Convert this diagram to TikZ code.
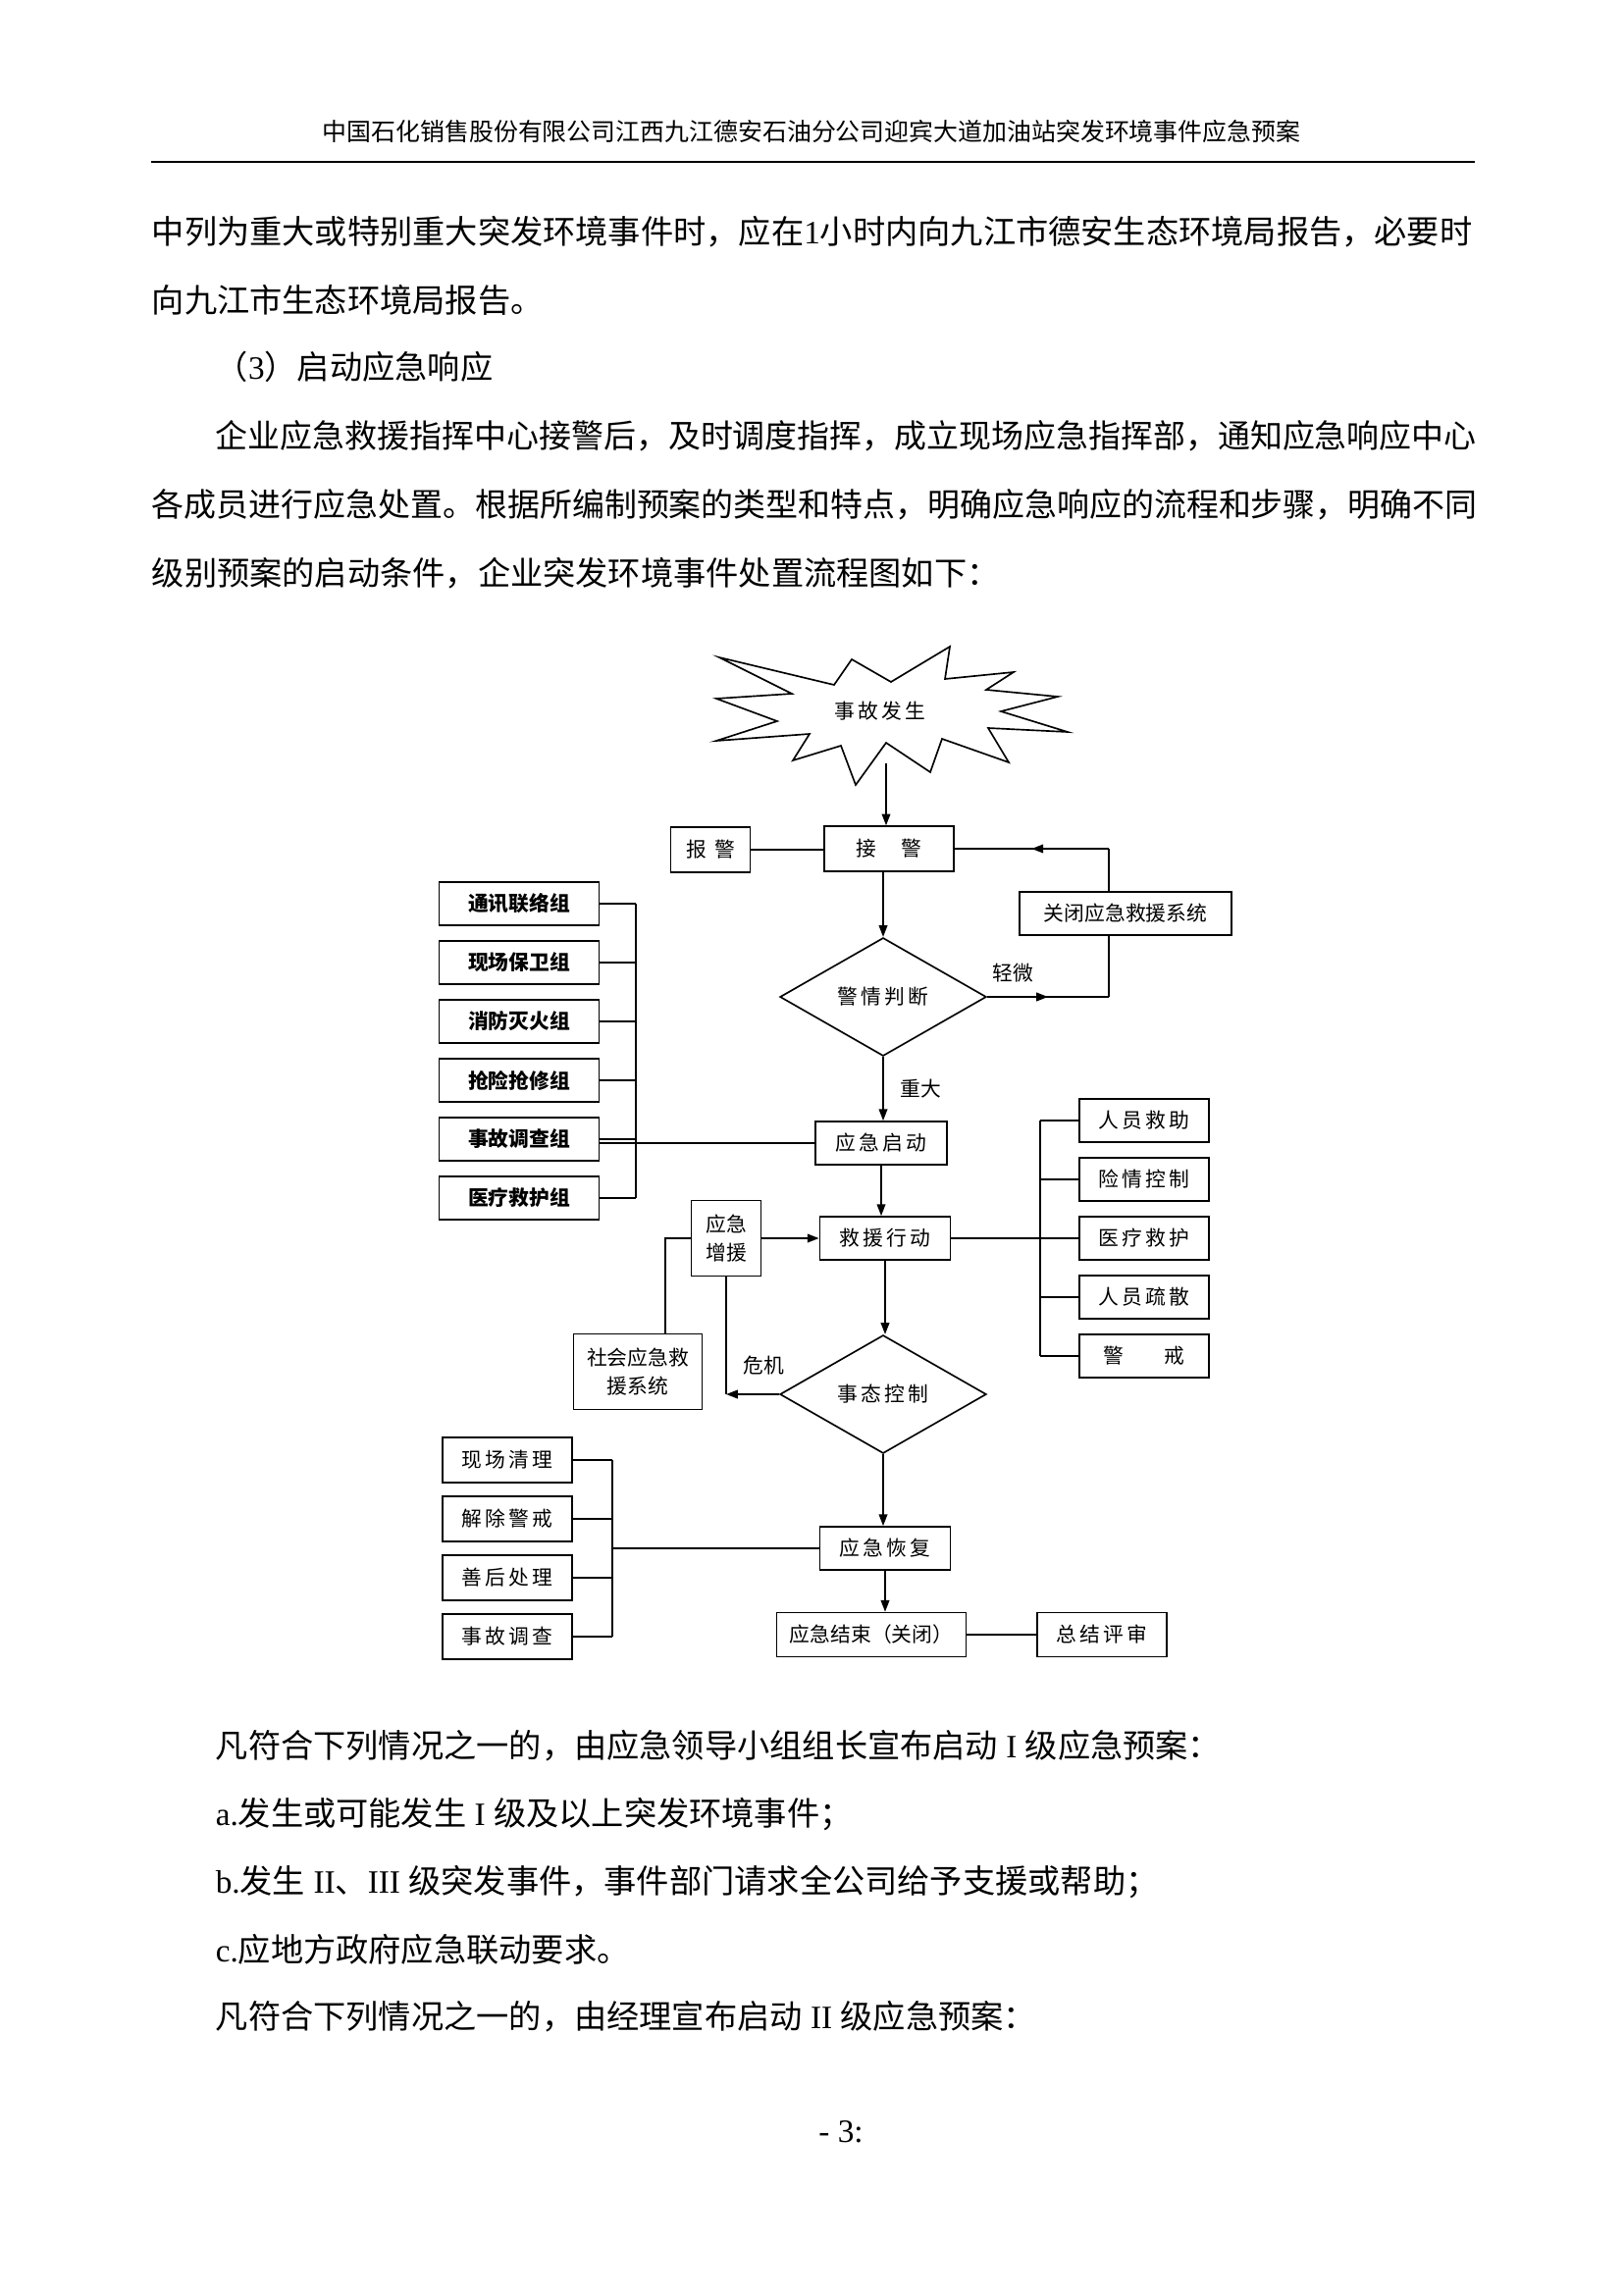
\documentclass[tikz,border=0pt]{standalone}
\usepackage{fontspec}
\setmainfont{Noto Sans CJK SC}
\newfontfamily\tnr{Liberation Serif}
\usepackage{tikz}
\usetikzlibrary{positioning,arrows.meta,shapes.geometric,calc,decorations.markings}

\newcommand{\bodysize}{\fontsize{12}{14}\selectfont}
\newcommand{\boxsize}{\fontsize{7.5}{10.5}\selectfont}

\begin{document}
\begin{tikzpicture}[x=0.12696mm, y=-0.12696mm, line width=0.6pt,
  body/.style={anchor=west, inner sep=0pt, font=\bodysize},
  tight/.style={body, font=\fontsize{11.9}{14}\selectfont},
  box/.style={draw, inner sep=1pt, minimum height=5.6mm, align=center, font=\boxsize},
  wbox/.style={box, font=\boxsize\addfontfeature{LetterSpace=15}},
  gbox/.style={box, minimum width=20.7mm, font=\boxsize\bfseries},
  dia/.style={draw, diamond, inner sep=0pt, minimum width=26.7mm, minimum height=15.3mm,
    font=\boxsize\addfontfeature{LetterSpace=15}},
  lbl/.style={inner sep=1pt, font=\boxsize},
  arr/.style={-{Triangle[length=1.5mm,width=1.1mm]}},
  midarrow/.style={postaction={decorate}, decoration={markings,
    mark=at position 0.5 with {\arrow{Triangle[length=1.5mm,width=1.1mm]}}}}]
  \fill[white] (0,0) rectangle (1654,2339);
  \useasboundingbox (0,0) rectangle (1654,2339);

  % page text
  \node[inner sep=0pt, font=\fontsize{9}{11}\selectfont] (header) at (827,134)
    {中国石化销售股份有限公司江西九江德安石油分公司迎宾大道加油站突发环境事件应急预案};
  \draw[line width=0.8pt] (154,165) -- (1503,165);
  \node[body] (p1) at (154,236) {中列为重大或特别重大突发环境事件时，应在{\tnr 1}小时内向九江市德安生态环境局报告，必要时};
  \node[body] (p2) at (154,306) {向九江市生态环境局报告。};
  \node[body] (p3) at (219,374) {（{\tnr 3}）启动应急响应};
  \node[tight] (p4) at (219,444) {企业应急救援指挥中心接警后，及时调度指挥，成立现场应急指挥部，通知应急响应中心};
  \node[tight] (p5) at (154,514) {各成员进行应急处置。根据所编制预案的类型和特点，明确应急响应的流程和步骤，明确不同};
  \node[body] (p6) at (154,584) {级别预案的启动条件，企业突发环境事件处置流程图如下：};

  % star
  \draw (733,670) -- (850,698) -- (868,672) -- (908,695) -- (968,659) -- (963,692)
    -- (1033,685) -- (1005,703) -- (1078,710) -- (1020,725) -- (1088,746) -- (1007,742)
    -- (1028,777) -- (960,753) -- (948,787) -- (903,757) -- (872,800) -- (857,760)
    -- (808,775) -- (825,748) -- (730,755) -- (792,735) -- (730,712) -- (807,707) -- cycle;
  \node[lbl, font=\boxsize\addfontfeature{LetterSpace=15}] (accident) at (897,725) {事故发生};
  \coordinate (starbot) at (903,778);

  % main column
  \node[wbox, minimum width=16.7mm, minimum height=5.8mm] (alarmin) at (906,865) {接\hspace{1.2em}警};
  \node[wbox, minimum width=10.3mm, minimum height=5.8mm] (report) at (724,866) {报\hspace{0.4em}警};
  \node[box, minimum width=27.4mm] (closesys) at (1147,931) {关闭应急救援系统};
  \node[dia] (judge) at (900,1016) {警情判断};
  \node[wbox, minimum width=17mm] (start) at (898,1165) {应急启动};
  \node[wbox, minimum width=16.9mm] (rescue) at (902,1262) {救援行动};
  \node[box, minimum width=9mm, minimum height=9.8mm] (reinforce) at (740,1262) {应急\\增援};
  \node[box, minimum width=16.6mm, minimum height=9.8mm] (social) at (650,1398) {社会应急救\\援系统};
  \node[dia] (control) at (900,1421) {事态控制};
  \node[wbox, minimum width=16.9mm] (recover) at (902,1578) {应急恢复};
  \node[box, minimum width=24.5mm, minimum height=5.7mm] (finish) at (888,1666) {应急结束（关闭）};
  \node[wbox, minimum width=16.8mm, minimum height=5.7mm] (review) at (1123,1666) {总结评审};

  \draw[arr] (starbot) -- (starbot |- alarmin.north);
  \draw (report.east) -- (report.east -| alarmin.west);
  \draw[arr] (judge.north |- alarmin.south) -- (judge.north);
  \coordinate (loop) at (1130,865);
  \draw (closesys.north -| loop) -- (loop);
  \draw[midarrow] (loop) -- (alarmin.east);
  \draw[midarrow] (judge.east) -- (judge.east -| loop);
  \draw (judge.east -| loop) -- (closesys.south -| loop);
  \node[lbl] (minor) at (1032,992) {轻微};
  \draw[arr] (judge.south) -- (judge.south |- start.north);
  \node[lbl] (major) at (938,1110) {重大};
  \draw[arr] (start.south) -- (start.south |- rescue.north);
  \draw[arr] (reinforce.east) -- (rescue.west);
  \draw[arr] (rescue.south) -- (rescue.south |- control.north);
  \coordinate (crisis) at (reinforce.south |- control.west);
  \draw[arr] (control.west) -- (crisis);
  \draw (reinforce.south) -- (crisis);
  \node[lbl] (crisislbl) at (778,1392) {危机};
  \draw ($(social.north)+(28,0)$) |- (reinforce.west);
  \draw[arr] (control.south) -- (control.south |- recover.north);
  \draw[arr] (recover.south) -- (recover.south |- finish.north);
  \draw (finish) -- (review);

  % groups on the left
  \coordinate (lbus) at (648,921);
  \foreach \name/\y [count=\i] in {通讯联络组/921,现场保卫组/981,消防灭火组/1041,抢险抢修组/1101,事故调查组/1161,医疗救护组/1221}{
    \node[gbox] (g\i) at (529,\y) {\name};
    \draw (g\i.east) -- (g\i.east -| lbus);
  }
  \draw (g1.east -| lbus) -- (g6.east -| lbus);
  \draw (start.west) -- (start.west -| g5.east);

  % tasks on the right
  \coordinate (rbus) at (1060,1142);
  \foreach \name/\y [count=\i] in {人员救助/1142,险情控制/1202,医疗救护/1262,人员疏散/1322,警\hspace{2em}戒/1382}{
    \node[wbox, minimum width=16.7mm] (r\i) at (1166,\y) {\name};
    \draw (r\i.west -| rbus) -- (r\i.west);
  }
  \draw (r1.west -| rbus) -- (r5.west -| rbus);
  \draw (rescue.east) -- (r3.west);

  % recovery tasks
  \coordinate (cbus) at (624,1488);
  \foreach \name/\y [count=\i] in {现场清理/1488,解除警戒/1548,善后处理/1608,事故调查/1668}{
    \node[wbox, minimum width=16.8mm, minimum height=5.8mm] (c\i) at (517,\y) {\name};
    \draw (c\i.east) -- (c\i.east -| cbus);
  }
  \draw (c1.east -| cbus) -- (c4.east -| cbus);
  \draw (recover.west) -- (recover.west -| cbus);

  % text below
  \node[body] (q1) at (219,1779) {凡符合下列情况之一的，由应急领导小组组长宣布启动{\tnr\ I\ }级应急预案：};
  \node[body] (q2) at (219,1849) {{\tnr a.}发生或可能发生{\tnr\ I\ }级及以上突发环境事件；};
  \node[body] (q3) at (219,1918) {{\tnr b.}发生{\tnr\ II}、{\tnr III\ }级突发事件，事件部门请求全公司给予支援或帮助；};
  \node[body] (q4) at (219,1987) {{\tnr c.}应地方政府应急联动要求。};
  \node[body] (q5) at (219,2055) {凡符合下列情况之一的，由经理宣布启动{\tnr\ II\ }级应急预案：};
  \node[inner sep=0pt, font=\tnr\fontsize{12}{14}\selectfont] (pageno) at (857,2173) {- 3:};
\end{tikzpicture}
\end{document}
